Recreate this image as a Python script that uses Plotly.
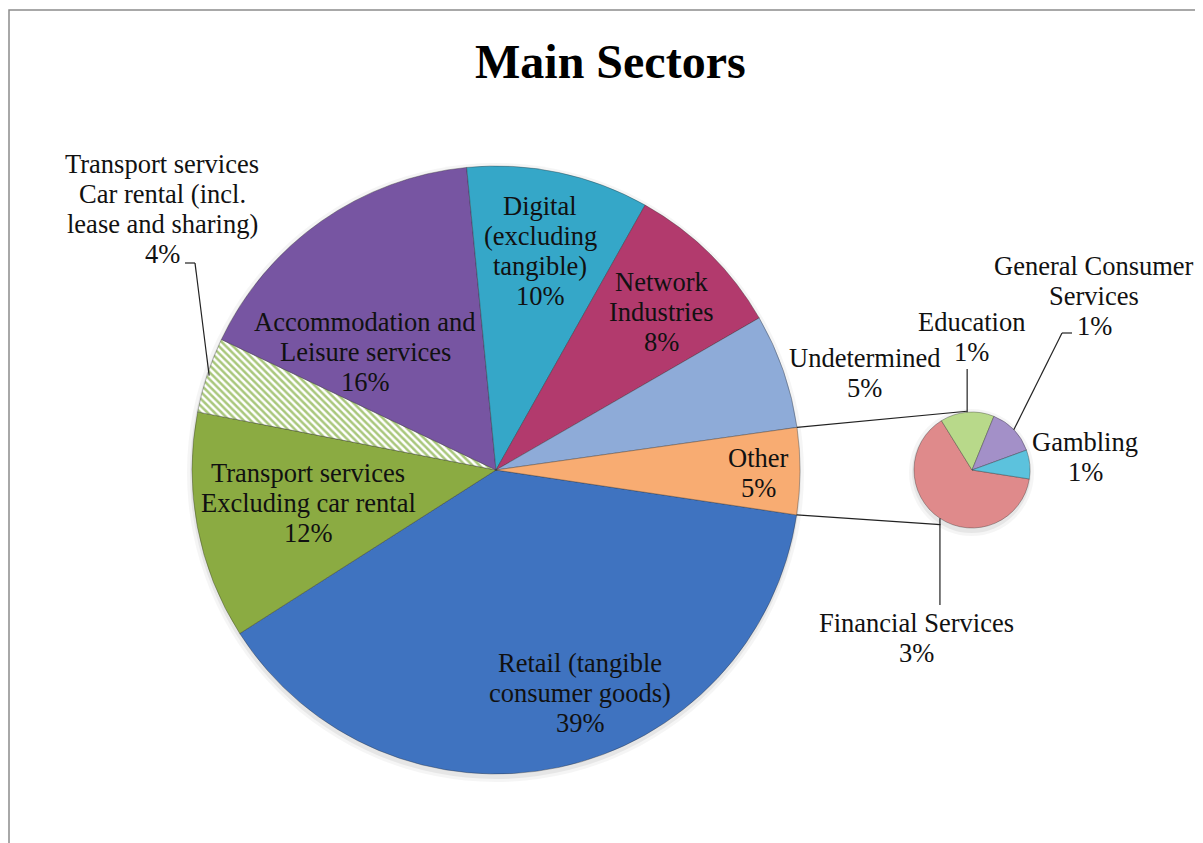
import numpy as np
import plotly.graph_objects as go

# the page body has an 8px margin, so the figure is drawn 8px in from the window corner
OFF = 8
W, H = 1203 - OFF, 843 - OFF

# Main pie (the last slice "Other" is broken out into the small pie)
main_labels = [
    ["Retail (tangible", "consumer goods)"],
    ["Transport services", "Excluding car rental"],
    ["Transport services", "Car rental (incl.", "lease and sharing)"],
    ["Accommodation and", "Leisure services"],
    ["Digital", "(excluding", "tangible)"],
    ["Network", "Industries"],
    ["Undetermined"],
    ["Other"],
]
main_values = [38.6, 12.1, 4.0, 16.4, 9.7, 8.5, 6.1]
main_pct = ["39%", "12%", "4%", "16%", "10%", "8%", "5%", "5%"]

# Small pie (breakdown of "Other")
small_labels = [["Financial Services"], ["Education"], ["General Consumer", "Services"], ["Gambling"]]
small_values = [2.93, 0.69, 0.61, 0.37]
small_pct = ["3%", "1%", "1%", "1%"]

other_value = sum(small_values)
main_all = main_values + [other_value]

main_colors = ["#3f73c0", "#8bab42", "#ffffff", "#7755a2", "#35a7c8", "#b23a6d", "#8eabd8", "#f8ac72"]
small_colors = ["#df8a8b", "#b8d98a", "#a390c8", "#5cc2dd"]

# geometry in window pixels
main_c, main_r = (496, 470), 304
small_c, small_r = (972, 470), 58
main_rot, small_rot = 98.5, 98.9  # degrees clockwise from 12 o'clock


def pxx(x):
    return (x - OFF) / W


def pxy(y):
    return 1 - (y - OFF) / H


def rim(center, r, ang):
    # ang: degrees clockwise from 12 o'clock
    a = np.radians(ang)
    return center[0] + r * np.sin(a), center[1] - r * np.cos(a)


def slice_angles(values, rot):
    cum = np.concatenate([[0], np.cumsum(values)]) / sum(values) * 360 + rot
    return cum[:-1], cum[1:]


def flat(lines):
    return " ".join(lines)


fig = go.Figure()

fig.add_trace(go.Pie(
    values=main_all,
    labels=[flat(l) for l in main_labels],
    sort=False, direction="clockwise", rotation=main_rot,
    textinfo="none", hoverinfo="label+percent",
    marker=dict(
        colors=main_colors,
        line=dict(color="rgba(40,40,40,0.35)", width=1),
        pattern=dict(
            shape=["", "", "\\", "", "", "", "", ""],
            fgcolor="#a9c77c", bgcolor="#ffffff",
            size=5, solidity=0.5, fillmode="replace",
        ),
    ),
    domain=dict(x=[pxx(main_c[0] - main_r), pxx(main_c[0] + main_r)],
                y=[pxy(main_c[1] + main_r), pxy(main_c[1] - main_r)]),
    showlegend=False,
))

fig.add_trace(go.Pie(
    values=small_values,
    labels=[flat(l) for l in small_labels],
    sort=False, direction="clockwise", rotation=small_rot,
    textinfo="none", hoverinfo="label+percent",
    marker=dict(colors=small_colors, line=dict(color="rgba(40,40,40,0.35)", width=1)),
    domain=dict(x=[pxx(small_c[0] - small_r), pxx(small_c[0] + small_r)],
                y=[pxy(small_c[1] + small_r), pxy(small_c[1] - small_r)]),
    showlegend=False,
))

shapes = []
# chart frame
shapes.append(dict(type="rect", xref="paper", yref="paper",
                   x0=pxx(9), x1=pxx(1230), y0=pxy(870), y1=pxy(10),
                   line=dict(color="#8c8c8c", width=1.5)))
# soft shadows
for c, r in [(main_c, main_r), (small_c, small_r)]:
    for k, a in [(6, 0.04), (3, 0.06)]:
        shapes.append(dict(type="circle", xref="paper", yref="paper", layer="below",
                           x0=pxx(c[0] - r - k + 1), x1=pxx(c[0] + r + k - 2),
                           y0=pxy(c[1] + r + k + 2), y1=pxy(c[1] - r - k + 3),
                           fillcolor=f"rgba(0,0,0,{a})", line=dict(width=0)))


def seg(p, q):
    return dict(type="line", xref="paper", yref="paper",
                x0=pxx(p[0]), y0=pxy(p[1]), x1=pxx(q[0]), y1=pxy(q[1]),
                line=dict(color="#222222", width=1.2))


# connector lines between the "Other" slice and the small pie
st, en = slice_angles(main_all, main_rot)
shapes.append(seg(rim(main_c, main_r, st[-1]), rim(small_c, small_r + 1, -5)))
shapes.append(seg(rim(main_c, main_r, en[-1]), rim(small_c, small_r + 5, 210)))

# leader lines
mid_main = (st + en) / 2
s_st, s_en = slice_angles(small_values, small_rot)
mid_small = (s_st + s_en) / 2

car_pt = rim(main_c, main_r - 2, mid_main[2])
shapes.append(seg((185, 263), (195, 263)))
shapes.append(seg((195, 263), car_pt))

edu_pt = rim(small_c, small_r, mid_small[1])
shapes.append(seg((edu_pt[0], 369), edu_pt))

gen_pt = rim(small_c, small_r, mid_small[2])
shapes.append(seg((1072, 333), (1062, 333)))
shapes.append(seg((1062, 333), gen_pt))

fin_pt = rim(small_c, small_r, mid_small[0])
shapes.append(seg(fin_pt, (fin_pt[0], 605)))

# data labels: x centre and y centre of the first line, in window pixels
main_pos = [(580, 663), (308, 473), (162, 164), (365, 322), (540, 206), (661, 282), (865, 358), (758, 458)]
small_pos = [(916, 623), (971, 322), (1094, 266), (1085, 442)]
LINE = 30

annotations = []
for lines, pct, (x, y) in zip(main_labels + small_labels, main_pct + small_pct, main_pos + small_pos):
    for i, t in enumerate(lines + [pct]):
        annotations.append(dict(
            text=t, x=pxx(x), y=pxy(y + i * LINE), xref="paper", yref="paper",
            xanchor="center", yanchor="middle", showarrow=False,
            font=dict(family="Liberation Serif", size=26.5, color="#111111"),
        ))

annotations.append(dict(
    text="<b>Main Sectors</b>", x=pxx(610), y=pxy(61), xref="paper", yref="paper",
    xanchor="center", yanchor="middle", showarrow=False,
    font=dict(family="Liberation Serif", size=48, color="black"),
))

fig.update_layout(
    width=W, height=H,
    margin=dict(l=0, r=0, t=0, b=0),
    paper_bgcolor="white",
    shapes=shapes,
    annotations=annotations,
)

fig.write_html("out.html")
